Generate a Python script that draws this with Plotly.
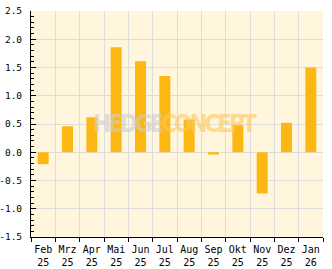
import plotly.graph_objects as go

months = ["Feb<br>25", "Mrz<br>25", "Apr<br>25", "Mai<br>25", "Jun<br>25", "Jul<br>25",
          "Aug<br>25", "Sep<br>25", "Okt<br>25", "Nov<br>25", "Dez<br>25", "Jan<br>26"]
values = [-0.21, 0.46, 0.62, 1.86, 1.61, 1.35, 0.58, -0.04, 0.48, -0.73, 0.52, 1.50]
y_ticks = [-1.5, -1.0, -0.5, 0.0, 0.5, 1.0, 1.5, 2.0, 2.5]

bar_color = "#FDB713"
bg_color = "#FFF6DD"
grid_color = "#DDDDDD"
mono = "DejaVu Sans Mono"

fig = go.Figure()
fig.add_trace(go.Bar(x=months, y=values, marker_color=bar_color, marker_line_width=0,
                     width=0.45))

fig.update_layout(
    width=332, height=269,
    margin=dict(l=31, r=9, t=11, b=32, autoexpand=False),
    paper_bgcolor="white",
    plot_bgcolor=bg_color,
    showlegend=False,
    font=dict(family=mono, size=10, color="black"),
)
fig.update_xaxes(
    type="category",
    automargin=False,
    tickson="boundaries",
    ticks="outside", ticklen=4, tickcolor="black",
    showgrid=True, gridcolor=grid_color, gridwidth=1,
    showline=True, linecolor="black", linewidth=1,
    tickfont=dict(family=mono, size=10, color="black"),
    tickangle=0,
    ticklabelstandoff=3,
)
fig.update_yaxes(
    range=[-1.5, 2.5],
    automargin=False,
    tickvals=y_ticks,
    ticktext=[f"{v:.1f}" for v in y_ticks],
    ticks="inside", ticklen=5, tickcolor="black",
    minor=dict(dtick=0.1, ticks="inside", ticklen=3, tickcolor="black", showgrid=False),
    showgrid=True, gridcolor=grid_color, gridwidth=1,
    zeroline=False,
    showline=True, linecolor="black", linewidth=1,
    tickfont=dict(family=mono, size=9.5, color="black"),
    ticklabelstandoff=6,
)

fig.add_annotation(
    xref="paper", yref="paper", x=0.493, y=0.50,
    text="<b><span style='color:rgba(205,205,205,0.6);letter-spacing:-3px'>HEDGE</span>"
         "<span style='color:rgba(253,200,90,0.6);letter-spacing:-3px'>CONCEPT</span></b>",
    showarrow=False,
    font=dict(family="DejaVu Sans Condensed", size=24),
)

fig.write_html("out.html")
